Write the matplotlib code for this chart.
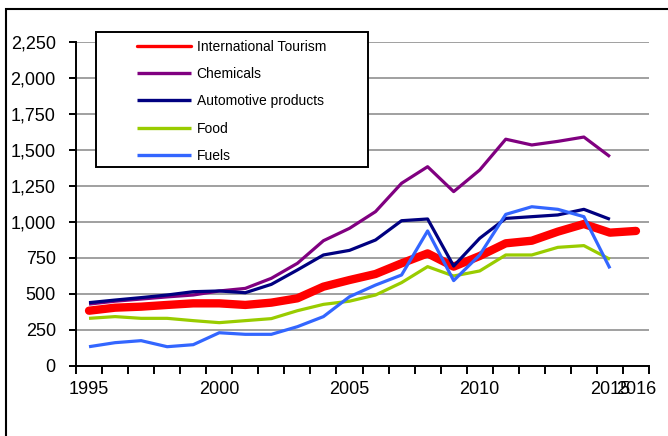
import numpy as np
import matplotlib
matplotlib.use("Agg")
import matplotlib.pyplot as plt
from matplotlib.patches import Rectangle
from matplotlib.ticker import FuncFormatter

# Export values (US$ bn) by year
years = list(range(1995, 2017))
tourism = [384, 405, 412, 424, 435, 435, 424, 440, 470, 551, 597,
           639, 713, 782, 690, 764, 852, 870, 933, 986, 926, 938]
chemicals = [430, 450, 465, 480, 493, 521, 539, 609, 713, 870, 956,
             1072, 1269, 1384, 1211, 1361, 1575, 1535, 1560, 1590, 1454]
automotive = [440, 458, 475, 493, 516, 521, 509, 567, 667, 771, 803,
              875, 1009, 1021, 694, 887, 1025, 1037, 1049, 1088, 1019]
food = [331, 343, 331, 331, 315, 301, 315, 329, 384, 428, 450,
        493, 579, 690, 625, 660, 771, 771, 824, 836, 741]
fuels = [134, 162, 176, 134, 148, 231, 220, 220, 273, 343, 481,
         562, 632, 938, 593, 771, 1053, 1106, 1088, 1037, 678]

labels = ['International Tourism', 'Chemicals', 'Automotive products',
          'Food', 'Fuels']
colors = ['#FF0000', '#800080', '#000080', '#99CC00', '#3366FF']
x_labels = [1995, 2000, 2005, 2010, 2015, 2016]

W, H = 668, 436
fig = plt.figure(figsize=(W / 100, H / 100), dpi=100)
ax = fig.add_axes([76 / W, 1 - 366 / H, (649 - 76) / W, (366 - 42) / H])

series = [tourism, chemicals, automotive, food, fuels]
lines = []
for i, (vals, lab, col) in enumerate(zip(series, labels, colors)):
    xs = years[:len(vals)]
    lw = 6.0 if i == 0 else 2.3
    ln, = ax.plot(xs, vals, color=col, lw=lw, label=lab,
                  solid_capstyle='round' if i == 0 else 'butt',
                  solid_joinstyle='round', zorder=3 + i)
    lines.append(ln)

ax.set_xlim(1994.5, 2016.5)
ax.set_ylim(0, 2250)
ax.set_yticks(np.arange(0, 2251, 250))
ax.yaxis.set_major_formatter(FuncFormatter(lambda v, p: f'{int(v):,}'))
ax.grid(axis='y', color='#A0A0A0', lw=1.4, zorder=1)
ax.set_axisbelow(True)

ax.set_xticks(x_labels)
ax.set_xticks(np.arange(1994.5, 2017, 1), minor=True)
ax.tick_params(axis='x', which='major', length=0, pad=11)
ax.tick_params(axis='x', which='minor', length=6, width=1.4, direction='out')
ax.tick_params(axis='y', length=5, width=1.4, direction='out', pad=9.5)

for t in ax.get_xticklabels() + ax.get_yticklabels():
    t.set_fontfamily(['Liberation Sans', 'DejaVu Sans'])
    t.set_fontsize(13)

for side in ['top', 'right']:
    ax.spines[side].set_visible(False)
for side in ['left', 'bottom']:
    ax.spines[side].set_linewidth(1.4)

# outer chart frame (runs off the right and bottom edges)
fig.patches.append(Rectangle((5.5 / W, -0.1), 1.2, 1.1 - 9.5 / H,
                             transform=fig.transFigure, fill=False,
                             edgecolor='black', lw=1.5))

# legend box
fig.patches.append(Rectangle((96 / W, 1 - 167 / H), 272 / W, 135 / H,
                             transform=fig.transFigure, facecolor='white',
                             edgecolor='black', lw=1.4, zorder=5))
leg = fig.legend(handles=lines, labels=labels, loc='upper left',
                 bbox_to_anchor=(130 / W, 1 - 33 / H), frameon=False,
                 borderpad=0, handlelength=3.9, handletextpad=0.4,
                 labelspacing=0.95,
                 prop={'family': ['Liberation Sans', 'DejaVu Sans'],
                       'size': 10})
leg.set_zorder(6)
for h in leg.legend_handles:
    h.set_linewidth(2.4)

fig.savefig('out.png', dpi=100)
